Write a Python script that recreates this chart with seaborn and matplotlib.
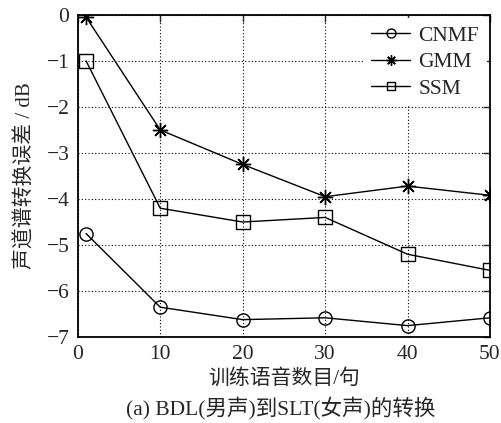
import matplotlib
matplotlib.use("Agg")
import matplotlib.pyplot as plt
import seaborn as sns
import pandas as pd

x_vals = [1, 10, 20, 30, 40, 50]
cnmf = [-4.75, -6.35, -6.62, -6.58, -6.75, -6.58]
gmm = [-0.05, -2.5, -3.25, -3.95, -3.72, -3.92]
ssm = [-1.0, -4.2, -4.5, -4.4, -5.2, -5.55]
series_names = ["CNMF", "GMM", "SSM"]

sns.set_style("white")
plt.rcParams['font.family'] = ['Liberation Serif', 'Noto Sans CJK SC']
plt.rcParams['axes.unicode_minus'] = True

df = pd.DataFrame({
    "x": x_vals * 3,
    "y": cnmf + gmm + ssm,
    "method": sum([[n] * len(x_vals) for n in series_names], []),
})

fig = plt.figure(figsize=(5.02, 4.23), dpi=100)
ax = fig.add_axes([0.155, 0.203, 0.821, 0.762])

markers = {"CNMF": "o", "GMM": (8, 2, 0), "SSM": "s"}
sizes = {"CNMF": 9.5, "GMM": 11, "SSM": 9.5}
for name in series_names:
    sub = df[df["method"] == name]
    sns.lineplot(data=sub, x="x", y="y", ax=ax, color="black", lw=1.0,
                 marker=markers[name], markersize=sizes[name],
                 markerfacecolor="none", markeredgecolor="black",
                 markeredgewidth=1.0, label=name)

ax.set_xlim(0, 50)
ax.set_ylim(-7, 0)
ax.set_xticks([0, 10, 20, 30, 40, 50])
ax.set_yticks(range(-7, 1))
ax.grid(True, color="black", linestyle=(0, (1, 2)), linewidth=0.8)
ax.tick_params(direction="in", length=5, labelsize=15.5, top=True, right=True,
               width=1.0, pad=6)
for s in ax.spines.values():
    s.set_linewidth(1.3)
    s.set_color("black")

ax.set_xlabel("训练语音数目/句", fontsize=15, labelpad=3)
ax.set_ylabel("声道谱转换误差 / dB", fontsize=15, labelpad=8)

leg = ax.legend(loc="upper right", fontsize=15.5, frameon=True, fancybox=False,
                borderaxespad=0.15, handlelength=1.8, handletextpad=0.4,
                labelspacing=0.3, markerscale=0.68, borderpad=0.35)
leg.get_frame().set_edgecolor("none")
leg.get_frame().set_facecolor("white")
leg.get_frame().set_alpha(1)

fig.text(0.56, 0.035, "(a) BDL(男声)到SLT(女声)的转换", ha="center", va="center",
         fontsize=15.5)

fig.savefig("out.png", dpi=100)
